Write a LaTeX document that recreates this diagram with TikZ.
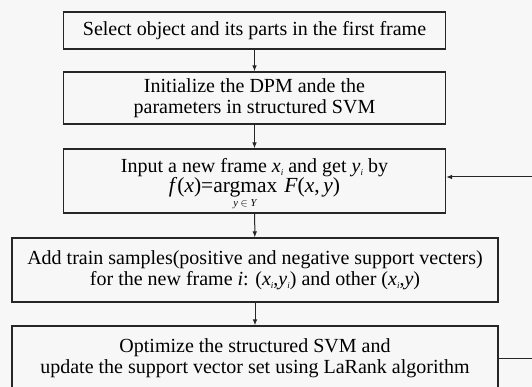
\documentclass[tikz,border=0pt]{standalone}
\usepackage{fontspec}
\setmainfont{Liberation Serif}
\usetikzlibrary{arrows.meta}
\newcommand\mysb[1]{\raisebox{-3.5pt}{\fontsize{9}{9}\selectfont\textit{#1}}}
\begin{document}
\begin{tikzpicture}[x=1pt,y=-1pt,
  box/.style={draw=black!85,line width=1.1pt,minimum width=382pt,inner sep=0pt,align=center,font=\fontsize{20}{21}\selectfont},
  wbox/.style={box,minimum width=486pt},
  txt/.style={inner sep=0pt,align=center},
  conn/.style={line width=1pt,draw=black!85,-{Latex[length=6pt,width=4.5pt]}},
  plain/.style={line width=1pt,draw=black!85}]
\fill[white!97!black] (0,0) rectangle (532,387);
\useasboundingbox (0,0) rectangle (532,387);
\node[box,minimum height=37pt] (b1) at (254.5,30.5) {Select object and its parts in the first frame};
\node[box,minimum height=52pt] (b2) at (254.5,98) {Initialize the DPM ande the\\parameters in structured SVM};
\node[box,minimum height=64pt] (b3) at (254.5,181) {};
\node[txt,anchor=base,font=\fontsize{20}{21}\selectfont] (t3a) at (254.5,172.5) {Input a new frame \textit{x}\mysb{i} and get \textit{y}\mysb{i} by};
\node[txt,anchor=base,font=\fontsize{21.5}{22}\selectfont] (t3b) at (254.5,193) {\textit{f}(\textit{x})=$\mathop{\hbox{argmax}}\limits_{\raisebox{-2pt}{\fontsize{10.5}{10.5}\selectfont\textit{y} $\in$ \textit{Y}}}$\hspace{7pt}\textit{F}(\textit{x},\,\textit{y})};
\node[wbox,minimum height=64pt] (b4) at (255,270) {Add train samples(positive and negative support vecters)\\for the new frame \textit{i}: (\textit{x}\mysb{i},\textit{y}\mysb{i}) and other (\textit{x}\mysb{i},\textit{y})};
\node[wbox,minimum height=64pt] (b5) at (255,358) {Optimize the structured SVM and\\update the support vector set using LaRank algorithm};
\draw[conn] (b1) -- (b2);
\draw[conn] (b2) -- (b3);
\draw[conn] (b3) -- (b4);
\draw[conn] (b4) -- (b5);
\coordinate (r1) at (534,358);
\coordinate (r2) at (534,177);
\draw[plain] (b5.east) -- (r1);
\draw[conn] (r2) -- (b3.east |- r2);
\end{tikzpicture}
\end{document}
